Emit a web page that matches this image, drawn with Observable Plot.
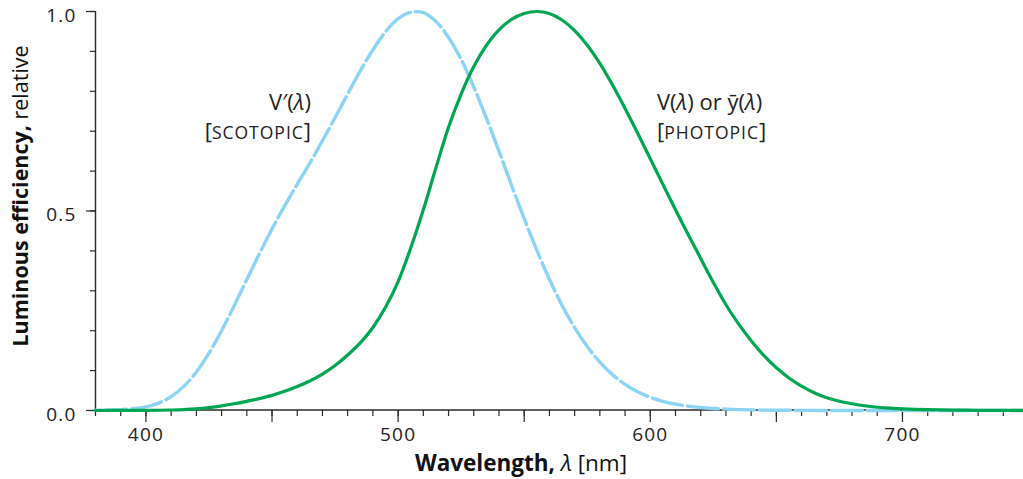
<!DOCTYPE html>
<html><head><meta charset="utf-8">
<script src="https://cdn.jsdelivr.net/npm/d3@7"></script>
<script src="https://cdn.jsdelivr.net/npm/@observablehq/plot@0.6"></script>
<style>
body{margin:0;background:#fff;}
#chart svg{display:block;}
</style>
</head><body><div id="chart"></div>
<script>
// Wavelength samples (nm)
const wavelengths = [380,385,390,395,400,405,410,415,420,425,430,435,440,445,450,455,460,465,470,475,480,485,490,495,500,505,510,515,520,525,530,535,540,545,550,555,560,565,570,575,580,585,590,595,600,605,610,615,620,625,630,635,640,645,650,655,660,665,670,675,680,685,690,695,700,705,710,715,720,725,730,735,740,745,750];
// Scotopic V'(λ)
const scotopic = [0.000589,0.001108,0.002209,0.00453,0.00929,0.01852,0.03484,0.0604,0.0966,0.1436,0.1998,0.2625,0.3281,0.3931,0.455,0.513,0.567,0.62,0.676,0.734,0.793,0.851,0.904,0.949,0.982,0.998,0.997,0.975,0.935,0.88,0.811,0.733,0.65,0.564,0.481,0.402,0.3288,0.2639,0.2076,0.1602,0.1212,0.0899,0.0655,0.0469,0.03315,0.02312,0.01593,0.01088,0.00737,0.00497,0.003335,0.002235,0.001497,0.001005,0.000677,0.000459,0.000313,0.000215,0.000148,0.000103,0.0000715,0.0000501,0.0000353,0.0000249,0.0000178,0.0000127,0.0000091,0.0000066,0.0000048,0.0000035,0.0000025,0.0000019,0.0000014,0.000001,0.0000008];
// Photopic V(λ)
const photopic = [0.000039,0.000064,0.00012,0.000217,0.000396,0.00064,0.00121,0.00218,0.004,0.0073,0.0116,0.01684,0.023,0.0298,0.038,0.048,0.06,0.0739,0.09098,0.1126,0.13902,0.1693,0.20802,0.2586,0.323,0.4073,0.503,0.6082,0.71,0.7932,0.862,0.91485,0.954,0.9803,0.99495,1.0,0.995,0.9786,0.952,0.9154,0.87,0.8163,0.757,0.6949,0.631,0.5668,0.503,0.4412,0.381,0.321,0.265,0.217,0.175,0.1382,0.107,0.0816,0.061,0.04458,0.032,0.02317,0.017,0.01186,0.00821,0.005723,0.004102,0.002929,0.002091,0.001484,0.001047,0.00074,0.00052,0.000361,0.000249,0.000172,0.00012];

const xLabelTicks = [400,500,600,700];
const xMidTicks = [400,450,500,550,600,650,700];
const xMinorTicks = [380,390,400,410,420,430,440,450,460,470,480,490,500,510,520,530,540,550,560,570,580,590,600,610,620,630,640,650,660,670,680,690,700,710,720,730,740];
const yLabelTicks = [0,0.5,1.0];
const yMinorTicks = [0,0.1,0.2,0.3,0.4,0.5,0.6,0.7,0.8,0.9,1.0];

const scotData = wavelengths.map((w,i)=>({w, v: scotopic[i]}));
const photData = wavelengths.map((w,i)=>({w, v: photopic[i]}));

const axisColor = "#2a2a2a";
const chart = Plot.plot({
  width: 1023,
  height: 479,
  marginLeft: 95,
  marginRight: 0,
  marginTop: 11,
  marginBottom: 69,
  style: {fontFamily: "'Open Sans', sans-serif", color: "#222", background: "#fff"},
  x: {domain: [380, 748], label: null},
  y: {domain: [0, 1], label: null},
  marks: [
    Plot.axisY({ticks: yMinorTicks, tickSize: 5, tickFormat: () => "", stroke: axisColor, strokeWidth: 1.2, label: null}),
    Plot.axisY({ticks: yLabelTicks, tickSize: 9, tickFormat: () => "", stroke: axisColor, strokeWidth: 1.2, label: null}),
    Plot.axisY({ticks: yLabelTicks, tickSize: 0, tickPadding: 19, dy: 4, tickFormat: d => d.toFixed(1), fill: "#222", label: null}),
    Plot.axisX({ticks: xMinorTicks, tickSize: 6, tickFormat: () => "", stroke: axisColor, strokeWidth: 1.2, label: null}),
    Plot.axisX({ticks: xMidTicks, tickSize: 12, tickFormat: () => "", stroke: axisColor, strokeWidth: 1.2, label: null}),
    Plot.axisX({ticks: xLabelTicks, tickSize: 0, tickPadding: 17, fill: "#222", label: null}),
    Plot.ruleX([380], {y1: 0, y2: 1, stroke: axisColor, strokeWidth: 1.4}),
    Plot.line(scotData, {x: "w", y: "v", stroke: "#8bd4f5", strokeWidth: 3.4, strokeDasharray: "31,5", curve: "catmull-rom"}),
    Plot.line(photData, {x: "w", y: "v", stroke: "#00a651", strokeWidth: 3.2, curve: "catmull-rom"})
  ]
});
document.getElementById("chart").appendChild(chart);

const svg = d3.select(chart);
// tick label text size
svg.selectAll("text").filter(function(){ return this.textContent.trim() !== ""; })
  .style("font-size", "19px").style("letter-spacing", "1.2px").style("font-family", "'Open Sans', sans-serif");

// axis line along the bottom, drawn under the curves
const xs = chart.scale("x"), ys = chart.scale("y");
svg.insert("line", ":first-child")
  .attr("x1", xs.apply(380)).attr("x2", 1023)
  .attr("y1", ys.apply(0)).attr("y2", ys.apply(0))
  .attr("stroke", axisColor).attr("stroke-width", 1.4);

const ff = "'Open Sans', sans-serif";
// x-axis title
const xt = svg.append("text").attr("x", 521).attr("y", 471).attr("text-anchor", "middle")
  .attr("font-family", ff).attr("font-size", 22.5).attr("fill", "#111");
xt.append("tspan").attr("font-weight", "bold").text("Wavelength,");
xt.append("tspan").text(" ");
xt.append("tspan").attr("font-style", "italic").text("λ");
xt.append("tspan").text(" [nm]");

// y-axis title
const yt = svg.append("text").attr("transform", "translate(28,196) rotate(-90)").attr("text-anchor", "middle")
  .attr("font-family", ff).attr("font-size", 21.5).attr("fill", "#111");
yt.append("tspan").attr("font-weight", "bold").text("Luminous efficiency,");
yt.append("tspan").text(" relative");

// curve annotations
function label(x, anchor, line1parts, word) {
  const t1 = svg.append("text").attr("x", x).attr("y", 110).attr("text-anchor", anchor)
    .attr("font-family", ff).attr("font-size", 22).attr("fill", "#222");
  line1parts.forEach(p => { const s = t1.append("tspan").text(p.t); if (p.i) s.attr("font-style", "italic"); });
  const t2 = svg.append("text").attr("x", x).attr("y", 139).attr("text-anchor", anchor)
    .attr("font-family", ff).attr("font-size", 22).attr("fill", "#222");
  t2.append("tspan").text("[");
  t2.append("tspan").attr("font-size", 17.5).attr("letter-spacing", 1).text(word);
  t2.append("tspan").text("]");
}
label(311, "end", [{t:"V′("},{t:"λ",i:true},{t:")"}], "SCOTOPIC");
label(657, "start", [{t:"V("},{t:"λ",i:true},{t:") or ȳ("},{t:"λ",i:true},{t:")"}], "PHOTOPIC");
</script>
</body></html>
